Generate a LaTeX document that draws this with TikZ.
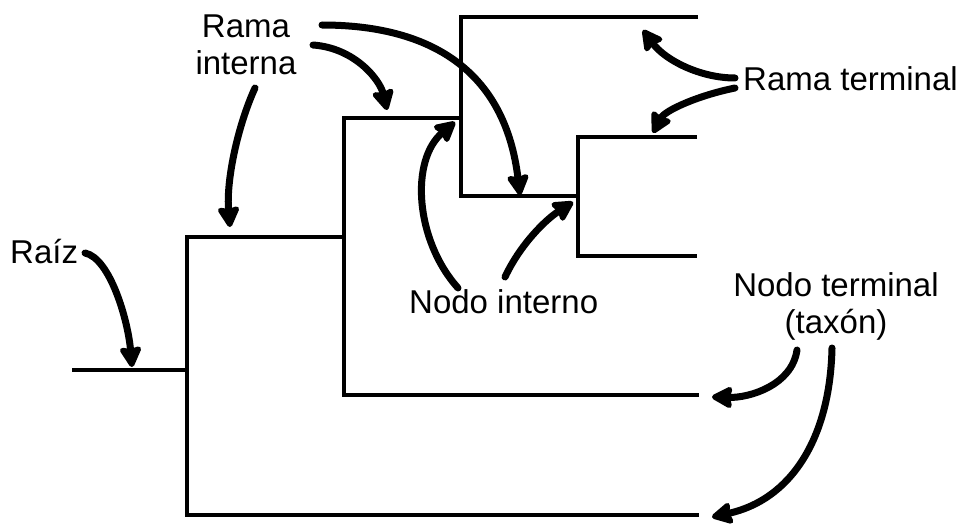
\documentclass[tikz,border=0pt]{standalone}
\usepackage{fontspec}
\setmainfont{Liberation Sans}
\usetikzlibrary{arrows.meta}
\begin{document}
\begin{tikzpicture}[x=1pt,y=-1pt,
  branch/.style={line width=3.3pt},
  pointer/.style={line width=7pt,line cap=round,
    -{Stealth[length=24pt,width=25pt,inset=3pt,round]}},
  lbl/.style={inner sep=0pt,font=\fontsize{33}{37}\selectfont,align=center}]
\useasboundingbox (0,0) rectangle (963,527);
% tree junctions
\coordinate (r0) at (72,370);
\coordinate (r1) at (187,370);
\coordinate (a1) at (187,237);
\coordinate (a2) at (187,515);
\coordinate (a3) at (699,515);
\coordinate (b0) at (344,237);
\coordinate (b1) at (344,118);
\coordinate (b2) at (344,395);
\coordinate (b3) at (699,395);
\coordinate (c0) at (461,118);
\coordinate (c1) at (461,17);
\coordinate (c2) at (461,196);
\coordinate (c3) at (698,17);
\coordinate (d0) at (578,196);
\coordinate (d1) at (578,137);
\coordinate (d2) at (578,256);
\coordinate (d3) at (697,137);
\coordinate (d4) at (697,256);
\draw[branch] (r0) -- (r1);
\draw[branch] (b0) -- (a1) -- (a2) -- (a3);
\draw[branch] (c0) -- (b1) -- (b2) -- (b3);
\draw[branch] (c3) -- (c1) -- (c2) -- (d0);
\draw[branch] (d3) -- (d1) -- (d2) -- (d4);
% labels
\node[lbl,anchor=north] (rint) at (246,15) {Rama\\interna};
\node[lbl,anchor=base west] (rter) at (743,90) {Rama terminal};
\node[lbl,anchor=base west] (raiz) at (10,263) {Raíz};
\node[lbl,anchor=base west] (nint) at (409,313) {Nodo interno};
\node[lbl,anchor=north] (nter) at (836,272) {Nodo terminal\\(taxón)};
% arrow endpoints
\coordinate (s1) at (85,253);   \coordinate (t1) at (132,367);
\coordinate (s2) at (255,88);   \coordinate (t2) at (230,227);
\coordinate (s3) at (313,45);   \coordinate (t3) at (387,110);
\coordinate (s4) at (322,25);   \coordinate (t4) at (520,195);
\coordinate (s5) at (458,288);  \coordinate (t5) at (455,122);
\coordinate (s6) at (505,277);  \coordinate (t6) at (573,202);
\coordinate (s7) at (735,78);   \coordinate (t7) at (643,30);
\coordinate (s8) at (735,88);   \coordinate (t8) at (653,133);
\coordinate (s9) at (797,350);  \coordinate (t9) at (712,397);
\coordinate (s10) at (832,348); \coordinate (t10) at (712,517);
\draw[pointer] (s1) .. controls (110,258) and (128,320) .. (t1);
\draw[pointer] (s2) .. controls (238,125) and (226,180) .. (t2);
\draw[pointer] (s3) .. controls (355,48) and (380,80) .. (t3);
\draw[pointer] (s4) .. controls (430,25) and (505,70) .. (t4);
\draw[pointer] (s5) .. controls (415,240) and (410,160) .. (t5);
\draw[pointer] (s6) .. controls (520,245) and (545,220) .. (t6);
\draw[pointer] (s7) .. controls (700,78) and (665,60) .. (t7);
\draw[pointer] (s8) .. controls (700,95) and (665,110) .. (t8);
\draw[pointer] (s9) .. controls (792,385) and (750,398) .. (t9);
\draw[pointer] (s10) .. controls (830,440) and (790,500) .. (t10);
\end{tikzpicture}
\end{document}
